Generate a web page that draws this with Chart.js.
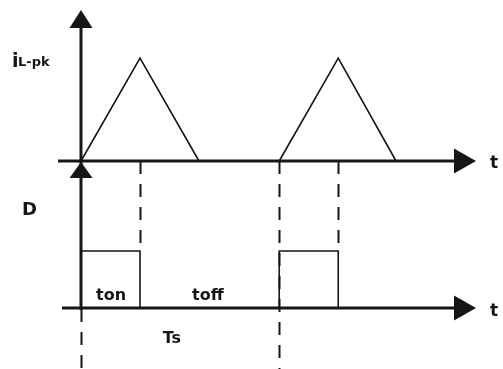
<!DOCTYPE html>
<html><head><meta charset="utf-8">
<script src="https://cdn.jsdelivr.net/npm/chart.js@4.4.0/dist/chart.umd.min.js"></script>
<style>html,body{margin:0;padding:0;background:#fff}canvas{display:block}</style>
</head><body>
<canvas id="c" width="503" height="369"></canvas>
<script>
// ---- data (time in units of ton, Ts = switching period) ----
const currentTime  = [0, 1, 2, null, 3.36, 4.36, 5.34];
const currentValue = [0, 1, 0, null, 0, 1, 0];          // 1 = iL-pk
const dutyTime     = [0, 0, 1, 1, null, 3.36, 3.36, 4.36, 4.36];
const dutyValue    = [0, 1, 1, 0, null, 0, 1, 1, 0];    // 1 = on
const guideTimes   = [1, 3.36, 4.36];                    // dashed markers
const periodTime   = 3.36;

// ---- layout (pixel anchors of the scales) ----
const W = 503, H = 369;
const ORIGIN_X = 81, PX_PER_T = 59;
const I_BASE = 161, I_PX = 103;
const D_BASE = 308, D_PX = 57;

const pts = (xs, ys) => xs.map((x, i) => ({x: x, y: ys[i]}));

const ink = '#161616';
const FONT = '"DejaVu Sans", sans-serif';

const diagram = {
  id: 'diagram',
  beforeDatasetsDraw(chart) {
    const ctx = chart.ctx;
    const xs = chart.scales.x, yi = chart.scales.y, yd = chart.scales.yD;
    const x0 = xs.getPixelForValue(0);
    const iBase = yi.getPixelForValue(0);
    const dBase = yd.getPixelForValue(0);
    const dTop = yd.getPixelForValue(1);
    ctx.save();
    ctx.strokeStyle = ink;
    // dashed guides
    ctx.lineWidth = 2;
    ctx.setLineDash([13, 10]);
    guideTimes.forEach(t => {
      const px = Math.round(xs.getPixelForValue(t)) + 0.5;
      const end = (t === periodTime) ? H : dTop;
      ctx.beginPath(); ctx.moveTo(px, iBase); ctx.lineTo(px, end); ctx.stroke();
    });
    ctx.beginPath(); ctx.moveTo(Math.round(x0) + 0.5, dBase + 1); ctx.lineTo(Math.round(x0) + 0.5, H); ctx.stroke();
    ctx.setLineDash([]);
    // axes
    ctx.lineWidth = 3;
    ctx.beginPath();
    ctx.moveTo(x0, iBase - 140); ctx.lineTo(x0, dBase + 2);
    ctx.moveTo(x0 - 23, iBase); ctx.lineTo(x0 + 380, iBase);
    ctx.moveTo(x0 - 19, dBase); ctx.lineTo(x0 + 380, dBase);
    ctx.stroke();
    ctx.restore();
  },
  afterDatasetsDraw(chart) {
    const ctx = chart.ctx;
    const xs = chart.scales.x, yi = chart.scales.y, yd = chart.scales.yD;
    const x0 = xs.getPixelForValue(0);
    const iBase = yi.getPixelForValue(0);
    const dBase = yd.getPixelForValue(0);
    ctx.save();
    ctx.fillStyle = ink;
    const tri = (a, b, c) => { ctx.beginPath(); ctx.moveTo(a[0], a[1]); ctx.lineTo(b[0], b[1]); ctx.lineTo(c[0], c[1]); ctx.closePath(); ctx.fill(); };
    // up arrows
    tri([x0, iBase - 151], [x0 - 11.5, iBase - 133], [x0 + 11.5, iBase - 133]);
    tri([x0, iBase + 1], [x0 - 11.5, iBase + 17], [x0 + 11.5, iBase + 17]);
    // right arrows
    const tipX = x0 + 395;
    tri([tipX, iBase], [tipX - 22, iBase - 12.5], [tipX - 22, iBase + 12.5]);
    tri([tipX, dBase], [tipX - 22, dBase - 12.5], [tipX - 22, dBase + 12.5]);
    // labels
    ctx.textBaseline = 'alphabetic';
    ctx.textAlign = 'left';
    ctx.font = 'bold 19px ' + FONT;
    ctx.fillText('i', 12, 67);
    ctx.font = 'bold 13px ' + FONT;
    ctx.fillText('L-pk', 18, 66);
    ctx.font = 'bold 18px ' + FONT;
    ctx.fillText('D', 22, 215);
    ctx.font = 'bold 17px ' + FONT;
    ctx.fillText('t', 490, iBase + 7);
    ctx.fillText('t', 490, dBase + 8);
    ctx.font = 'bold 16px ' + FONT;
    ctx.textAlign = 'center';
    ctx.fillText('ton', xs.getPixelForValue(0.51), dBase - 8);
    ctx.fillText('toff', xs.getPixelForValue(2.15), dBase - 8);
    ctx.fillText('Ts', xs.getPixelForValue(1.54), dBase + 35);
    ctx.restore();
  }
};

new Chart(document.getElementById('c'), {
  type: 'scatter',
  data: {
    datasets: [
      { data: pts(currentTime, currentValue), yAxisID: 'y', showLine: true, spanGaps: false,
        borderColor: ink, borderWidth: 1.6, pointRadius: 0, tension: 0 },
      { data: pts(dutyTime, dutyValue), yAxisID: 'yD', showLine: true, spanGaps: false,
        borderColor: ink, borderWidth: 1.6, pointRadius: 0, tension: 0 }
    ]
  },
  options: {
    responsive: false, animation: false, events: [],
    layout: { padding: 0 },
    plugins: { legend: { display: false }, tooltip: { enabled: false } },
    scales: {
      x:  { type: 'linear', display: false, min: -ORIGIN_X / PX_PER_T, max: (W - ORIGIN_X) / PX_PER_T },
      y:  { type: 'linear', display: false, min: (I_BASE - H) / I_PX, max: I_BASE / I_PX },
      yD: { type: 'linear', axis: 'y', display: false, min: (D_BASE - H) / D_PX, max: D_BASE / D_PX }
    }
  },
  plugins: [diagram]
});
</script>
</body></html>
